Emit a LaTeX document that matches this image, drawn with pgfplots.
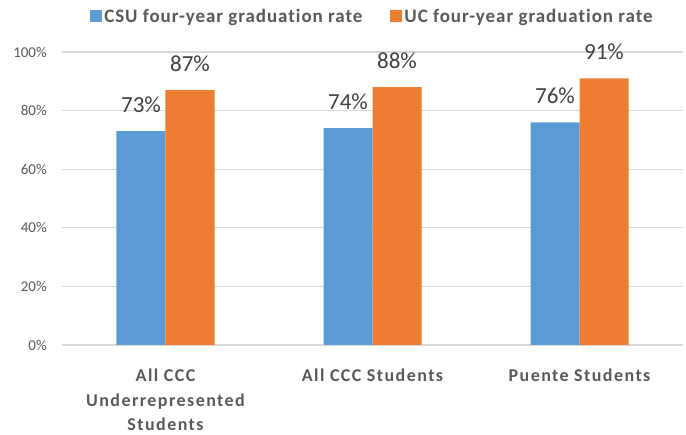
\documentclass[border=0pt]{standalone}
\usepackage{fontspec}
\setmainfont{Carlito}
\newfontfamily\spfont[LetterSpace=8,Ligatures=NoCommon]{Carlito}
\newfontfamily\legfont[LetterSpace=5,Ligatures=NoCommon]{Carlito}
\usepackage{pgfplots}
\pgfplotsset{compat=1.18}
\definecolor{csublue}{HTML}{5B9BD5}
\definecolor{ucorange}{HTML}{ED7D31}
\definecolor{ticktext}{HTML}{595959}
\definecolor{gridgray}{HTML}{D9D9D9}
\definecolor{labeltext}{HTML}{404040}
\pgfplotsset{sqleg/.style={legend image code/.code={\fill[##1] (0pt,-5pt) rectangle (12pt,7pt);}}}
\begin{document}
\begin{tikzpicture}
\path[use as bounding box] (0,0) rectangle (686pt,435pt);
\begin{axis}[
 at={(62pt,90pt)}, anchor=south west,
 scale only axis, width=621pt, height=293pt,
 ybar=0pt, bar width=49pt,
 xmin=-0.5, xmax=2.5, ymin=0, ymax=100,
 xtick={0,1,2},
 xticklabels={{All CCC\\Underrepresented\\Students},{All CCC Students},{Puente Students}},
 ytick={0,20,...,100},
 yticklabel={\pgfmathprintnumber{\tick}\%},
 /pgf/number format/assume math mode=true,
 ymajorgrids, grid style={draw=gridgray, line width=1.3pt},
 axis line style={draw=none},
 major tick length=0pt,
 tick style={draw=none},
 yticklabel style={font=\fontsize{15}{18}\selectfont, text=ticktext, anchor=east, inner sep=0pt, xshift=-15pt},
 xticklabel style={font=\spfont\bfseries\fontsize{18}{24.5}\selectfont, text=ticktext, align=center, anchor=north, inner sep=0pt, yshift=-24pt},
 nodes near coords={\pgfmathprintnumber{\pgfplotspointmeta}\%},
 every node near coord/.append style={font=\fontsize{23}{27}\selectfont, text=labeltext, anchor=south, inner sep=0pt, yshift=18pt},
 legend style={at={(0.5,1)}, anchor=center, yshift=35pt, draw=none, fill=none, legend columns=2, font=\legfont\bfseries\fontsize{19}{22}\selectfont, text=ticktext, /tikz/every even column/.append style={column sep=26pt}, nodes={inner sep=2pt}},
]
\addplot[fill=csublue, draw=none, sqleg] coordinates {(0,73) (1,74) (2,76)};
\addplot[fill=ucorange, draw=none, sqleg] coordinates {(0,87) (1,88) (2,91)};
\legend{CSU four-year graduation rate, UC four-year graduation rate}
\end{axis}
\end{tikzpicture}
\end{document}
